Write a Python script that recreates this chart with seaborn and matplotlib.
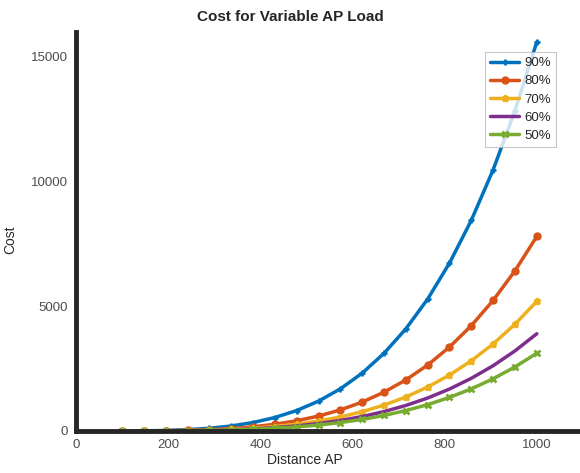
import numpy as np
import pandas as pd
import matplotlib
matplotlib.use("Agg")
import matplotlib.pyplot as plt
import seaborn as sns

# distance points (20 samples from 100 to 1000)
distance = [100, 147.4, 194.7, 242.1, 289.5, 336.8, 384.2, 431.6, 478.9, 526.3,
            573.7, 621.1, 668.4, 715.8, 763.2, 810.5, 857.9, 905.3, 952.6, 1000]

cost_90 = [1.6, 7.4, 22, 54, 110, 201, 340, 541, 821, 1197,
           1690, 2321, 3114, 4095, 5292, 6733, 8450, 10477, 12848, 15600]
cost_80 = [0.8, 3.7, 11, 27, 55, 100, 170, 271, 410, 599,
           845, 1160, 1557, 2048, 2646, 3366, 4225, 5238, 6424, 7800]
cost_70 = [0.5, 2.5, 7.5, 18, 37, 67, 113, 180, 274, 399,
           563, 774, 1038, 1365, 1764, 2244, 2817, 3492, 4283, 5200]
cost_60 = [0.4, 1.8, 5.6, 13, 27, 50, 85, 135, 205, 299,
           422, 580, 778, 1024, 1323, 1683, 2113, 2619, 3212, 3900]
cost_50 = [0.3, 1.5, 4.5, 11, 22, 40, 68, 108, 164, 239,
           338, 464, 623, 819, 1058, 1347, 1690, 2095, 2570, 3120]

labels = ["90%", "80%", "70%", "60%", "50%"]
series = [cost_90, cost_80, cost_70, cost_60, cost_50]

colors = ["#0072BD", "#D95319", "#EDB120", "#7E2F8E", "#77AC30"]
markers = ["+", "o", "*", None, "x"]
msizes = [4, 4, 4.5, 0, 5]

sns.set_style("white")
plt.rcParams["font.family"] = ["Liberation Sans", "DejaVu Sans"]

df = pd.DataFrame({
    "distance": distance * len(labels),
    "cost": sum(series, []),
    "load": np.repeat(labels, len(distance)),
})

fig = plt.figure(figsize=(5.8, 4.73), dpi=100)
ax = fig.add_axes([0.131, 0.0888, 0.874, 0.8436])

for lab, col, mk, ms in zip(labels, colors, markers, msizes):
    sub = df[df["load"] == lab]
    kw = {}
    if mk:
        kw = dict(marker=mk, markersize=ms, markeredgewidth=2,
                  markeredgecolor=col, markerfacecolor=col)
    sns.lineplot(data=sub, x="distance", y="cost", ax=ax, color=col,
                 linewidth=2.5, label=lab, **kw)

ax.set_xlim(0, 1100)
ax.set_ylim(0, 16000)
ax.set_xticks([0, 200, 400, 600, 800, 1000])
ax.set_yticks([0, 5000, 10000, 15000])

for s in ["top", "right"]:
    ax.spines[s].set_visible(False)
for s in ["left", "bottom"]:
    ax.spines[s].set_linewidth(3.5)
    ax.spines[s].set_color("#262626")

ax.tick_params(direction="in", length=5, width=1.5, color="#262626",
               labelsize=9.5, labelcolor="#4d4d4d", pad=6)

ax.set_xlabel("Distance AP", fontsize=10, color="#262626")
ax.set_ylabel("Cost", fontsize=10, color="#262626")
ax.xaxis.set_label_coords(0.452, -0.055)
ax.yaxis.set_label_coords(-0.115, 0.48)
ax.set_title("Cost for Variable AP Load", fontsize=11, fontweight="bold", x=0.422, pad=8)

leg = ax.legend(loc="upper right", bbox_to_anchor=(0.9606, 0.967), fontsize=9.5,
                frameon=True, fancybox=False, handlelength=2.2, borderpad=0.4,
                labelspacing=0.45, handletextpad=0.4)
leg.get_frame().set_edgecolor("#bbbbbb")
leg.get_frame().set_linewidth(0.8)

fig.savefig("out.png", dpi=100)
